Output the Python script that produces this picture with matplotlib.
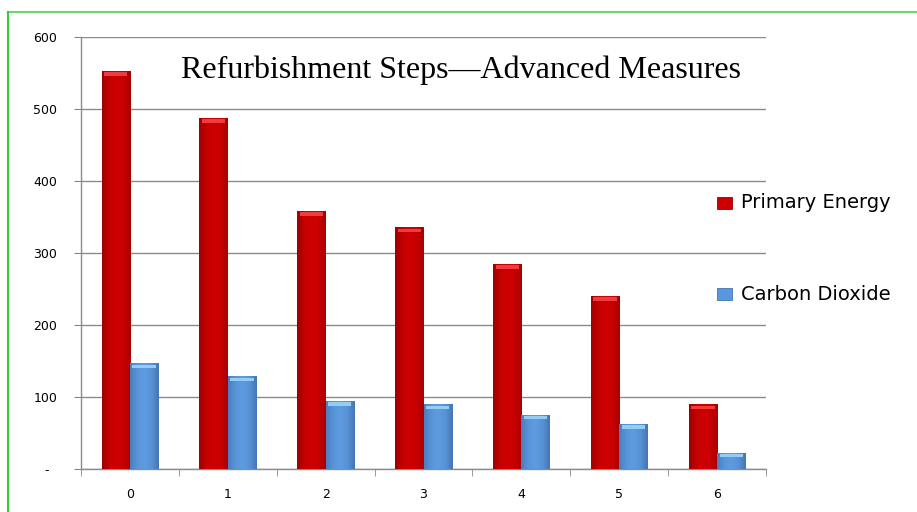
import matplotlib
matplotlib.use("Agg")
import matplotlib.pyplot as plt
import numpy as np
from matplotlib.lines import Line2D
from matplotlib.colors import LinearSegmentedColormap

categories = ["0", "1", "2", "3", "4", "5", "6"]
primary_energy = [552, 487, 358, 335, 284, 240, 89]
carbon_dioxide = [146, 128, 94, 89, 75, 62, 22]
yticks = [0, 100, 200, 300, 400, 500, 600]
ytick_labels = ["-  ", "100", "200", "300", "400", "500", "600"]
title = "Refurbishment Steps\u2014Advanced Measures"
series_names = ["Primary Energy", "Carbon Dioxide"]

W, H = 917, 512
fig = plt.figure(figsize=(W / 100, H / 100), dpi=100)
ax = fig.add_axes([81 / W, 1 - 469 / H, (766 - 81) / W, (469 - 37) / H])

x = np.arange(len(categories))
bw = 0.29
red = "#cc0000"
blue = "#5b97dc"
red_cmap = LinearSegmentedColormap.from_list("r", ["#9e0000", "#c40000", "#cf0000", "#c80000", "#a80000"])
blue_cmap = LinearSegmentedColormap.from_list("b", ["#4a7ec0", "#5994d8", "#5e9be0", "#5892d6", "#4675b2"])
b1 = ax.bar(x - bw / 2, primary_energy, bw, color=red, linewidth=0, zorder=2)
b2 = ax.bar(x + bw / 2, carbon_dioxide, bw, color=blue, linewidth=0, zorder=2)
grad = np.linspace(0, 1, 64).reshape(1, -1)
for bars, cm, cap in ((b1, red_cmap, "#f03c3c"), (b2, blue_cmap, "#93cdf6")):
    for r in bars:
        x0, x1, h = r.get_x(), r.get_x() + r.get_width(), r.get_height()
        ax.imshow(grad, cmap=cm, extent=[x0, x1, 0, h], aspect="auto", zorder=3, interpolation="bilinear")
        ax.bar((x0 + x1) / 2, 5, r.get_width() * 0.82, bottom=h - 6, color=cap, linewidth=0, zorder=4)

ax.set_xlim(-0.5, len(categories) - 0.5)
ax.set_ylim(0, 600)
ax.set_yticks(yticks)
ax.set_yticklabels(ytick_labels, fontsize=9, family="DejaVu Sans")
ax.set_xticks(x)
ax.set_xticklabels(categories, fontsize=9, family="DejaVu Sans")
ax.tick_params(axis="x", length=0, pad=14)
ax.set_xticks(np.arange(-0.5, len(categories), 1), minor=True)
ax.tick_params(axis="x", which="minor", length=5, color="#888888", direction="out")
ax.tick_params(axis="y", length=5, color="#888888", pad=12)
ax.yaxis.grid(True, color="#8c8c8c", linewidth=1, zorder=0)
for s in ("top", "right"):
    ax.spines[s].set_visible(False)
for s in ("left", "bottom"):
    ax.spines[s].set_color("#8c8c8c")
    ax.spines[s].set_linewidth(1)

fig.text(461 / W, 1 - 70 / H, title, family="Liberation Serif", fontsize=23,
         ha="center", va="center", color="black")

# legend entries
for (yy, name, c, ec) in ((203, series_names[0], red, "#a00000"), (294, series_names[1], blue, "#3f74b4")):
    fig.patches.append(matplotlib.patches.Rectangle((717 / W, 1 - (yy + 6) / H), 15 / W, 12 / H,
                                                    transform=fig.transFigure, facecolor=c, edgecolor=ec, linewidth=0.6))
    fig.text(741 / W, 1 - yy / H, name, family="DejaVu Sans", fontsize=14, ha="left", va="center")

# green frame (top and left)
fig.add_artist(Line2D([8 / W, 1], [1 - 12 / H, 1 - 12 / H], color="#6fd46f", linewidth=1.5, transform=fig.transFigure))
fig.add_artist(Line2D([8 / W, 8 / W], [0, 1 - 12 / H], color="#33cc33", linewidth=1.5, transform=fig.transFigure))

fig.savefig("out.png", dpi=100)
